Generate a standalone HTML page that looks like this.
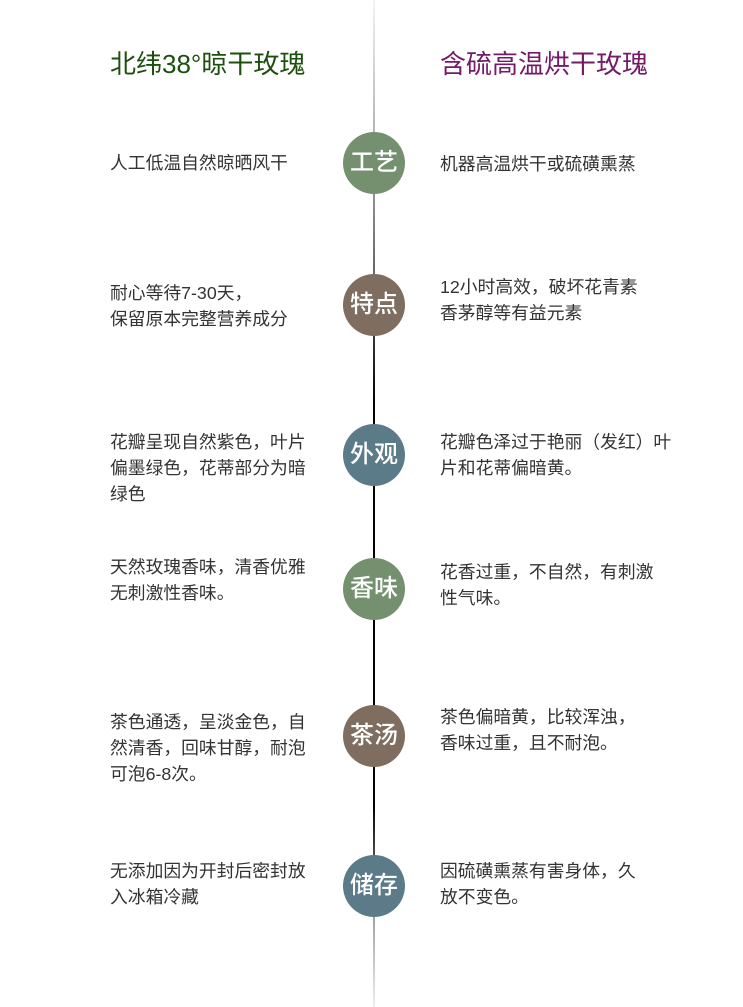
<!DOCTYPE html>
<html><head><meta charset="utf-8"><style>
body{margin:0;width:743px;height:1007px;background:#fff;position:relative;overflow:hidden;font-family:"Liberation Sans","Noto Sans CJK SC",sans-serif;}
.line{position:absolute;left:373px;top:0;width:2px;height:1007px;background:linear-gradient(#f4f4f4 0%,#aaa 15%,#555 30%,#000 40%,#000 80%,#999 90%,#eee 100%);}
.t{position:absolute;top:46px;font-size:26px;line-height:36px;}
.c{position:absolute;left:343px;width:62px;height:62px;border-radius:50%;color:#fff;font-size:24px;line-height:62px;text-align:center;font-weight:500;}
.g{background:#74906f}.b{background:#7f6d60}.s{background:#5b7b89}
.p{position:absolute;font-size:17.8px;line-height:26px;color:#333;white-space:nowrap;}
.l{left:110px}.r{left:440px}
</style></head><body>
<div class="line"></div>
<div class="t" style="left:110px;color:#1d4f0e">北纬38°晾干玫瑰</div>
<div class="t" style="left:440px;color:#751a68">含硫高温烘干玫瑰</div>

<div class="c g" style="top:132px">工艺</div>
<div class="p l" style="top:150px">人工低温自然晾晒风干</div>
<div class="p r" style="top:151px">机器高温烘干或硫磺熏蒸</div>

<div class="c b" style="top:274px">特点</div>
<div class="p l" style="top:280px">耐心等待7-30天，<br>保留原本完整营养成分</div>
<div class="p r" style="top:274px">12小时高效，破坏花青素<br>香茅醇等有益元素</div>

<div class="c s" style="top:424px">外观</div>
<div class="p l" style="top:429px">花瓣呈现自然紫色，叶片<br>偏墨绿色，花蒂部分为暗<br>绿色</div>
<div class="p r" style="top:429px">花瓣色泽过于艳丽（发红）叶<br>片和花蒂偏暗黄。</div>

<div class="c g" style="top:558px">香味</div>
<div class="p l" style="top:554px">天然玫瑰香味，清香优雅<br>无刺激性香味。</div>
<div class="p r" style="top:559px">花香过重，不自然，有刺激<br>性气味。</div>

<div class="c b" style="top:705px">茶汤</div>
<div class="p l" style="top:709px">茶色通透，呈淡金色，自<br>然清香，回味甘醇，耐泡<br>可泡6-8次。</div>
<div class="p r" style="top:704px">茶色偏暗黄，比较浑浊，<br>香味过重，且不耐泡。</div>

<div class="c s" style="top:855px">储存</div>
<div class="p l" style="top:858px">无添加因为开封后密封放<br>入冰箱冷藏</div>
<div class="p r" style="top:858px">因硫磺熏蒸有害身体，久<br>放不变色。</div>
</body></html>
